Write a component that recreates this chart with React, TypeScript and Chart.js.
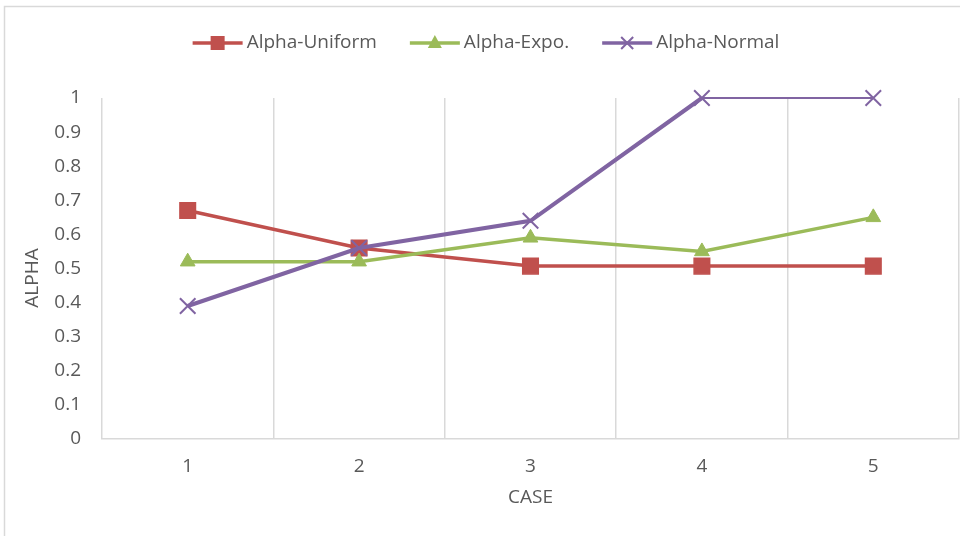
import React, { useEffect, useRef } from 'react';
import { Chart, registerables } from 'chart.js';

Chart.register(...registerables);

const categories = ['1', '2', '3', '4', '5'];
const seriesNames = ['Alpha-Uniform', 'Alpha-Expo.', 'Alpha-Normal'];
const alphaUniform = [0.67, 0.56, 0.507, 0.507, 0.507];
const alphaExpo = [0.52, 0.52, 0.59, 0.55, 0.65];
const alphaNormal = [0.39, 0.56, 0.64, 1.0, 1.0];
const xTitle = 'CASE';
const yTitle = 'ALPHA';

const FONT = "'Open Sans', sans-serif";
const TEXT = '#595959';
const GRID = '#d9d9d9';
const RED = '#C0504D';
const GREEN = '#9BBB59';
const PURPLE = '#8064A2';

function drawMarker(ctx: CanvasRenderingContext2D, style: string, x: number, y: number, color: string) {
  ctx.save();
  ctx.fillStyle = color;
  ctx.strokeStyle = color;
  if (style === 'rect') {
    ctx.fillRect(x - 7, y - 7, 14, 14);
  } else if (style === 'triangle') {
    ctx.beginPath();
    ctx.moveTo(x, y - 8);
    ctx.lineTo(x + 7, y + 5);
    ctx.lineTo(x - 7, y + 5);
    ctx.closePath();
    ctx.fill();
  } else {
    ctx.lineWidth = 2;
    ctx.beginPath();
    ctx.moveTo(x - 6, y - 6);
    ctx.lineTo(x + 6, y + 6);
    ctx.moveTo(x + 6, y - 6);
    ctx.lineTo(x - 6, y + 6);
    ctx.stroke();
  }
  ctx.restore();
}

const framePlugin = {
  id: 'frame',
  beforeDraw(chart: any) {
    const ctx = chart.ctx as CanvasRenderingContext2D;
    ctx.save();
    ctx.fillStyle = '#ffffff';
    ctx.fillRect(0, 0, chart.width, chart.height);
    ctx.strokeStyle = GRID;
    ctx.lineWidth = 1.5;
    ctx.beginPath();
    ctx.moveTo(4.5, chart.height);
    ctx.lineTo(4.5, 6.5);
    ctx.lineTo(chart.width, 6.5);
    ctx.stroke();
    ctx.restore();
  },
};

const legendPlugin = {
  id: 'customLegend',
  afterDraw(chart: any) {
    const ctx = chart.ctx as CanvasRenderingContext2D;
    ctx.save();
    ctx.font = `19px ${FONT}`;
    const items = chart.data.datasets.map((ds: any) => ({
      label: ds.label as string,
      color: ds.borderColor as string,
      style: ds.pointStyle as string,
      w: ctx.measureText(ds.label).width,
    }));
    const lineLen = 50;
    const gapText = 4;
    const gapItem = 33;
    const total =
      items.reduce((s: number, it: any) => s + lineLen + gapText + it.w, 0) + gapItem * (items.length - 1);
    let x = 486 - total / 2;
    const y = 43;
    items.forEach((it: any) => {
      ctx.strokeStyle = it.color;
      ctx.lineWidth = 3.5;
      ctx.beginPath();
      ctx.moveTo(x, y);
      ctx.lineTo(x + lineLen, y);
      ctx.stroke();
      drawMarker(ctx, it.style, x + lineLen / 2, y, it.color);
      ctx.fillStyle = TEXT;
      ctx.textAlign = 'left';
      ctx.textBaseline = 'middle';
      ctx.fillText(it.label, x + lineLen + gapText, y);
      x += lineLen + gapText + it.w + gapItem;
    });
    ctx.restore();
  },
};

export default function App() {
  const canvasRef = useRef<HTMLCanvasElement | null>(null);

  useEffect(() => {
    if (!canvasRef.current) return;
    const chart = new Chart(canvasRef.current, {
      type: 'line',
      data: {
        labels: categories,
        datasets: [
          {
            label: seriesNames[0],
            data: alphaUniform,
            borderColor: RED,
            backgroundColor: RED,
            borderWidth: 3.5,
            pointStyle: 'rect',
            pointRadius: 11,
            pointBorderWidth: 1.5,
            pointBackgroundColor: RED,
            pointBorderColor: RED,
            order: 2,
            clip: false,
          },
          {
            label: seriesNames[1],
            data: alphaExpo,
            borderColor: GREEN,
            backgroundColor: GREEN,
            borderWidth: 3.5,
            pointStyle: 'triangle',
            pointRadius: 8.5,
            pointBorderWidth: 1,
            pointBackgroundColor: GREEN,
            pointBorderColor: GREEN,
            order: 1,
            clip: false,
          },
          {
            label: seriesNames[2],
            data: alphaNormal,
            borderColor: PURPLE,
            backgroundColor: PURPLE,
            borderWidth: 4,
            pointStyle: 'crossRot',
            pointRadius: 11,
            pointBorderWidth: 2,
            pointBackgroundColor: PURPLE,
            pointBorderColor: PURPLE,
            order: 0,
            clip: false,
            segment: {
              borderWidth: (ctx: any) => (ctx.p0DataIndex === 3 ? 2 : 4),
            },
          } as any,
        ],
      },
      options: {
        animation: false,
        responsive: false,
        layout: { autoPadding: false, padding: { top: 98, right: 1, bottom: 0, left: 0 } },
        plugins: {
          legend: { display: false },
          tooltip: { enabled: false },
        },
        elements: { line: { tension: 0 } },
        scales: {
          x: {
            type: 'category',
            offset: true,
            grid: { display: true, offset: true, color: GRID, lineWidth: 1.5, drawTicks: false },
            border: { display: true, color: GRID, width: 1.5 },
            ticks: { color: TEXT, font: { family: FONT, size: 19 }, padding: 16.6 },
            title: {
              display: true,
              text: xTitle,
              color: TEXT,
              font: { family: FONT, size: 19 },
              padding: { top: 0, bottom: 26.6 },
            },
            afterFit: (scale: any) => {
              scale.height = 97;
              scale.paddingLeft = 0;
              scale.paddingRight = 0;
            },
          },
          y: {
            type: 'linear',
            min: 0,
            max: 1,
            grid: { display: false, drawTicks: false },
            border: { display: false },
            ticks: {
              stepSize: 0.1,
              color: TEXT,
              font: { family: FONT, size: 19 },
              padding: 21,
              callback: (v: any) => String(Number(Number(v).toFixed(1))),
            },
            title: {
              display: true,
              text: yTitle + '\u2002\u2002',
              color: TEXT,
              font: { family: FONT, size: 19 },
              padding: { top: 21.6, bottom: 0 },
            },
            afterFit: (scale: any) => {
              scale.width = 102;
            },
          },
        },
      } as any,
      plugins: [framePlugin, legendPlugin],
    });
    return () => chart.destroy();
  }, []);

  return (
    <div style={{ position: 'fixed', left: 0, top: 0, width: 960, height: 536, background: '#fff' }}>
      <canvas ref={canvasRef} width={960} height={536} style={{ display: 'block', width: 960, height: 536 }} />
    </div>
  );
}
